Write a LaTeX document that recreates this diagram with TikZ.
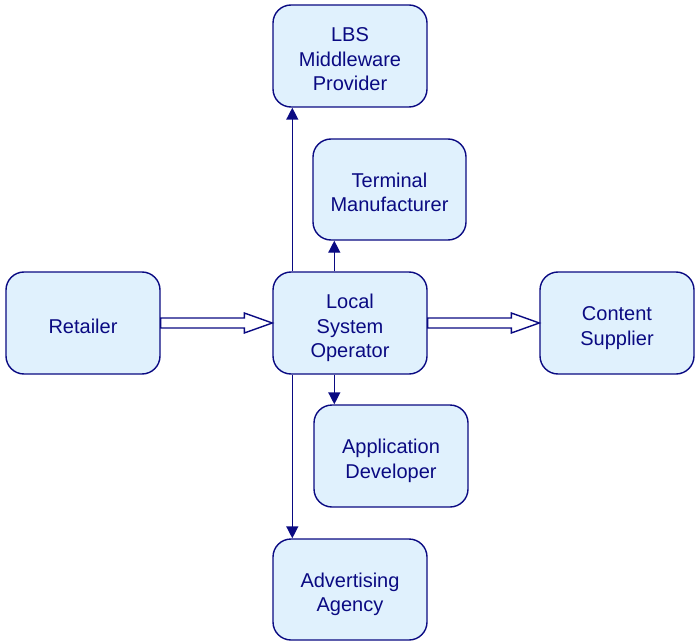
\documentclass[tikz,border=0pt]{standalone}
\usepackage{fontspec}
\setmainfont{Liberation Sans}
\usetikzlibrary{arrows.meta,calc}
\definecolor{boxline}{HTML}{0A0A82}
\definecolor{boxfill}{HTML}{E0F1FD}
% centred lines of a box label, with a fixed top strut so every label sits alike
\newcommand{\boxtext}[1]{\begin{tabular}{@{}c@{}}\rule{0pt}{27.65bp}#1\end{tabular}}
\tikzset{
  actor/.style={draw=boxline, fill=boxfill, line width=1.4bp, rounded corners=18bp,
    minimum width=154bp, minimum height=102bp, text=boxline,
    font=\fontsize{20bp}{24.5bp}\selectfont, inner sep=0pt},
  link/.style={draw=boxline, line width=1.4bp, -{Triangle[length=12bp,width=12bp]}},
  flow/.style={draw=boxline, line width=1.4bp, fill=white, line join=miter}
}
% hollow block arrow from #1 to #2 (horizontal)
\newcommand{\blockarrow}[2]{%
  \path[flow] ($(#1)+(0,5)$) -- ($(#2)+(-28,5)$) -- ($(#2)+(-28,10)$) -- (#2)
    -- ($(#2)+(-28,-10)$) -- ($(#2)+(-28,-5)$) -- ($(#1)+(0,-5)$) -- cycle;}
\begin{document}
\begin{tikzpicture}[x=1bp,y=-1bp]
\useasboundingbox (0,0) rectangle (695,642);
\node[actor] (lbs) at (350,56) {\boxtext{LBS\\Middleware\\Provider}};
\node[actor, minimum width=153bp, minimum height=101bp] (term) at (389.5,189.5) {\boxtext{Terminal\\Manufacturer}};
\node[actor] (ret) at (83,323) {\boxtext{Retailer}};
\node[actor] (lso) at (350,323) {\boxtext{Local\\System\\Operator}};
\node[actor] (cont) at (617,323) {\boxtext{Content\\Supplier}};
\node[actor] (app) at (391,456) {\boxtext{Application\\Developer}};
\node[actor, minimum height=101bp] (adv) at (350,589.5) {\boxtext{Advertising\\Agency}};

\draw[link] ($(lso.north west)+(20,0)$) coordinate (u1) -- (u1 |- lbs.south);
\draw[link] ($(lso.north west)+(62,0)$) coordinate (u2) -- (u2 |- term.south);
\draw[link] ($(lso.south west)+(62,0)$) coordinate (d2) -- (d2 |- app.north);
\draw[link] ($(lso.south west)+(20,0)$) coordinate (d1) -- (d1 |- adv.north);

\blockarrow{ret.east}{lso.west}
\blockarrow{lso.east}{cont.west}
\end{tikzpicture}
\end{document}
